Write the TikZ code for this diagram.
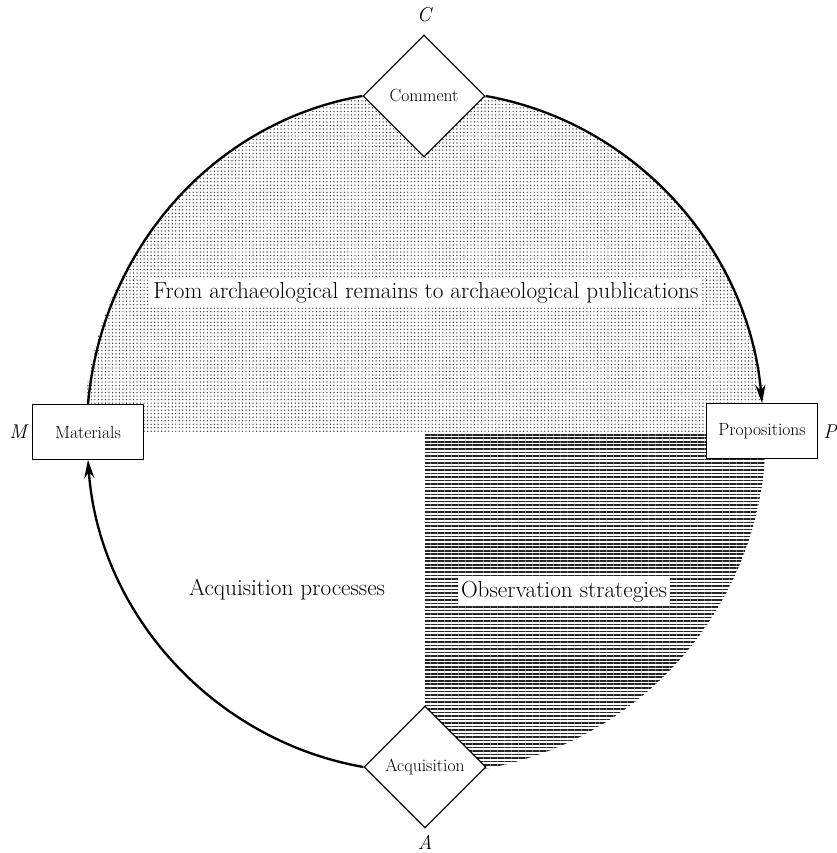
\documentclass[tikz,border=0pt]{standalone}
\usetikzlibrary{shapes.geometric,arrows.meta,patterns.meta}

\begin{document}
\begin{tikzpicture}[x=0.3mm, y=0.3mm,
  every node/.style={draw, fill=white, line width=1.1pt, inner sep=0pt, font=\fontsize{15}{17}\selectfont},
  box/.style={rectangle, minimum width=33.3mm, minimum height=16.3mm},
  rhomb/.style={diamond, aspect=1, minimum size=36.6mm},
  txt/.style={draw=none, inner sep=3pt, font=\fontsize{19.8}{22}\selectfont},
  letter/.style={draw=none, fill=none, font=\fontsize{17}{19}\selectfont\itshape},
  rim/.style={line width=2pt}]
            \useasboundingbox (0,0) rectangle (837,853);
            \coordinate (O) at (425,420);
            % the two shaded parts of the circle
            \fill[pattern={Dots[distance=3pt,radius=0.6pt]}, pattern color=black!80]
                (O) ++(180:341) arc[start angle=180, end angle=0, radius=341] -- cycle;
            \fill[pattern={Lines[angle=0,distance=3pt,line width=1.4pt]}, pattern color=black!85]
                (O) -- ++(0:341) arc[start angle=0, end angle=-90, radius=341] -- cycle;

            \node[rhomb] (comment) at (424,757) {Comment};
            \node[rhomb] (acq) at (425,86) {Acquisition};
            \node[box] (mat) at (88,421) {Materials};
            \node[box] (prop) at (762,422) {Propositions};

            \node[letter] (C) at (424,838) {C};
            \node[letter] (M) at (18,421) {M};
            \node[letter] (P) at (830,421) {P};
            \node[letter] (A) at (425,11) {A};

            \node[txt] (title) at (426,560) {From archaeological remains to archaeological publications};
            \node[txt, fill=none] (acqproc) at (287,263) {Acquisition processes};
            \node[txt] (obs) at (564,261) {Observation strategies};

            \draw[rim] (mat.north) to[out=85, in=190, looseness=0.95] (comment.west);
            \draw[rim, -{Stealth[length=5.5mm,width=3mm]}] (comment.east) to[out=-10, in=95, looseness=0.95] (prop.north);
            \draw[rim, -{Stealth[length=5.5mm,width=3mm]}] (acq.west) to[out=170, in=274, looseness=0.95] (mat.south);
\end{tikzpicture}
\end{document}
